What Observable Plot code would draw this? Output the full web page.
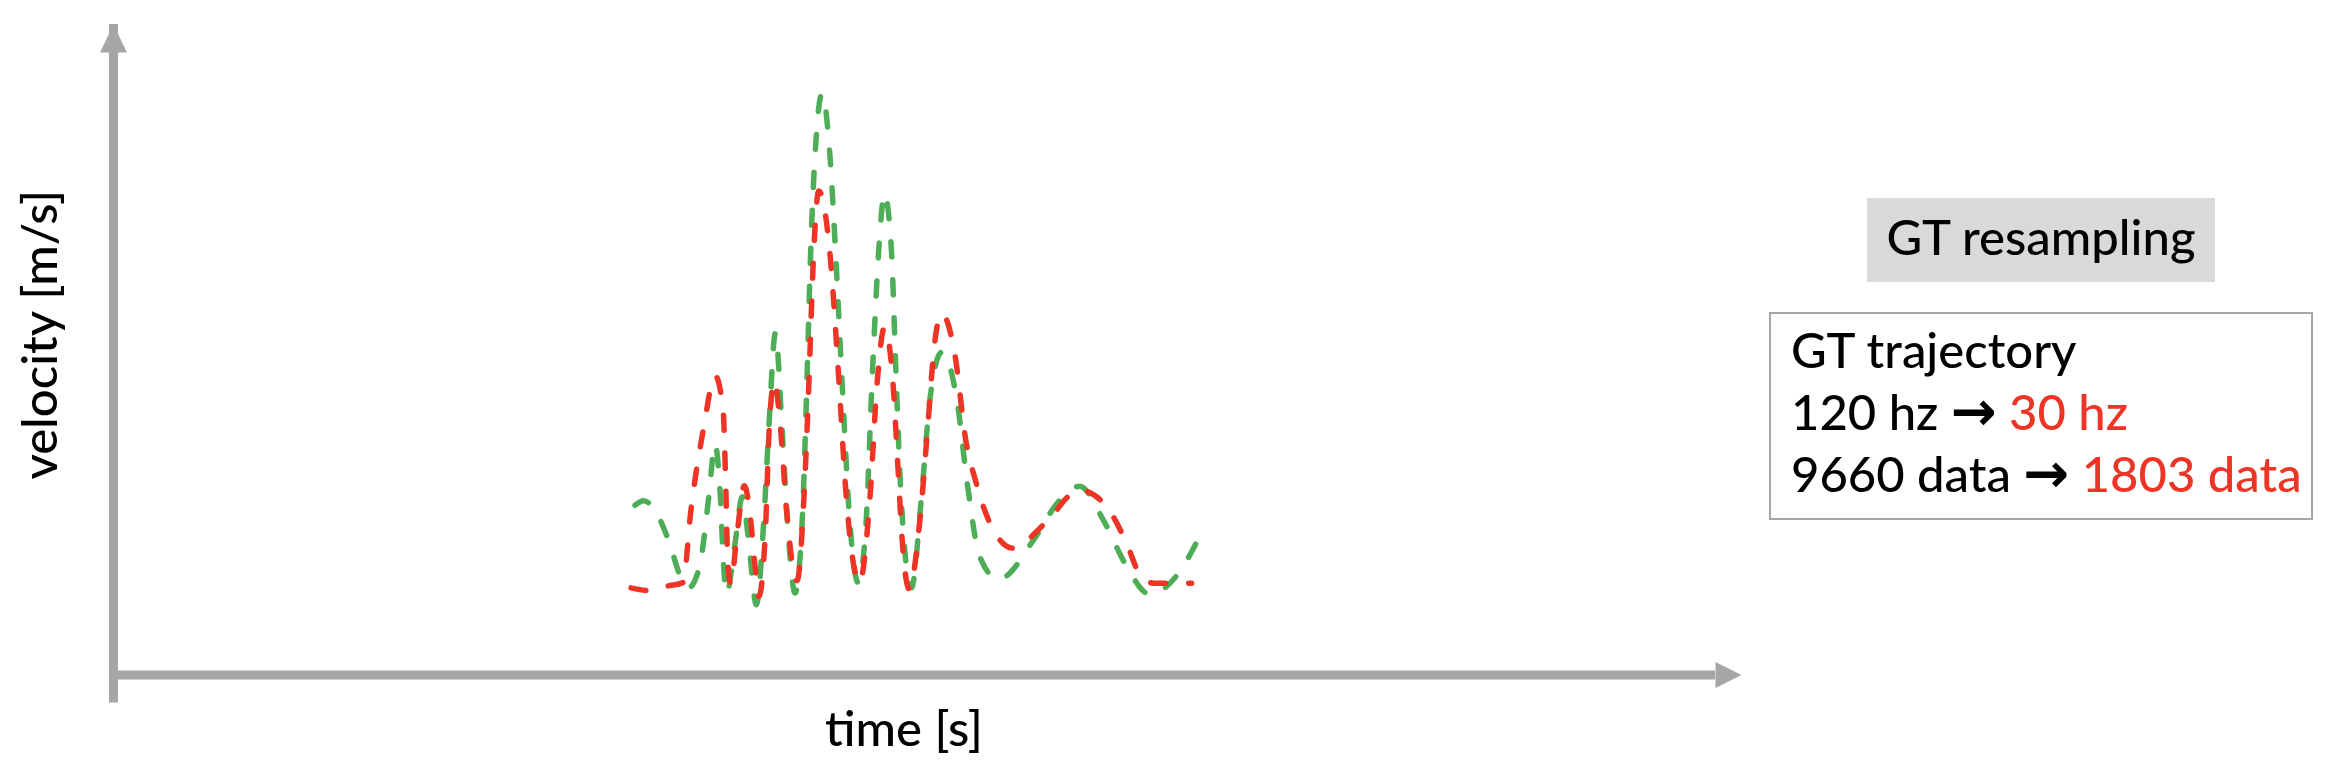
<!DOCTYPE html>
<html>
<head>
<meta charset="utf-8">
<script src="https://cdn.jsdelivr.net/npm/d3@7"></script>
<script src="https://cdn.jsdelivr.net/npm/@observablehq/plot@0.6"></script>
<style>
  html, body { margin: 0; padding: 0; background: #fff; }
  #wrap { position: relative; width: 2336px; height: 774px; font-family: Lato, "Noto Sans", sans-serif; font-weight: 500; color: #000; }
  #wrap svg { position: absolute; left: 0; top: 0; }
  .tag { position: absolute; left: 1867px; top: 198px; width: 348px; height: 84px; box-sizing: border-box;
         background: #D9D9D9; font-size: 49px; line-height: 76px; padding-bottom: 8px; text-align: center; white-space: nowrap; }
  .note { position: absolute; left: 1769px; top: 312px; width: 544px; height: 208px; box-sizing: border-box;
          border: 2px solid #A6A6A6; padding: 4px 0 0 20px; font-size: 49px; line-height: 62px; white-space: nowrap; }
  .red { color: #EE3424; }
  .arr { font-family: "DejaVu Sans", sans-serif; font-weight: bold; font-size: 1.12em; line-height: 0; }
</style>
</head>
<body>
<div id="wrap"></div>
<script>
// ---- data ----
const xLabel = "time [s]";
const yLabel = "velocity [m/s]";
const xDomain = [0, 100];
const yDomain = [0, 10];

// green dashed curve: original GT trajectory (120 hz)
const greenTime = [32.04, 32.55, 33.19, 34.08, 34.85, 35.31, 35.99, 36.58, 36.94, 37.27, 37.47, 37.65, 38.21, 38.62, 38.98,
  39.49, 39.95, 40.28, 40.66, 41.05, 41.43, 41.86, 42.32, 42.58, 42.83, 43.14, 43.52, 43.98, 44.41, 44.80, 45.23, 45.74,
  46.20, 46.63, 47.04, 47.35, 47.78, 48.06, 48.37, 49.01, 49.64, 50.15, 50.87, 51.81, 52.45, 53.21, 54.36, 56.53, 58.06,
  59.34, 60.87, 62.14, 63.67, 65.46, 66.61];
const greenVelocity = [2.61, 2.68, 2.56, 2.08, 1.50, 1.34, 1.66, 2.77, 3.55, 2.77, 1.71, 1.25, 2.08, 2.74, 2.14,
  1.08, 2.40, 3.92, 5.26, 3.86, 2.24, 1.26, 2.45, 4.40, 6.55, 8.18, 8.94, 8.08, 6.22, 4.27, 2.35, 1.42,
  2.24, 4.72, 6.66, 7.40, 6.55, 4.66, 2.77, 1.34, 2.77, 4.24, 4.96, 4.22, 2.93, 1.82, 1.47, 2.08, 2.67,
  2.90, 2.35, 1.71, 1.24, 1.58, 2.08];

// red dashed curve: resampled GT trajectory (30 hz)
const redTime = [31.79, 32.81, 34.08, 34.97, 35.48, 36.25, 36.96, 37.45, 37.60, 37.73, 37.91, 38.29, 38.75, 39.13, 39.39,
  39.64, 40.05, 40.26, 40.59, 40.97, 41.35, 41.99, 42.42, 42.73, 42.96, 43.32, 43.98, 44.54, 45.00, 45.82, 46.45, 46.91,
  47.35, 47.86, 48.16, 48.49, 48.88, 49.52, 50.03, 50.41, 50.87, 51.68, 52.37, 52.96, 53.72, 55.26, 57.17, 59.34, 61.00,
  62.27, 63.03, 63.93, 66.22];
const redVelocity = [1.34, 1.30, 1.37, 1.42, 2.56, 3.80, 4.60, 4.06, 2.98, 1.77, 1.40, 2.14, 2.91, 2.40, 1.71,
  1.21, 2.24, 3.70, 4.52, 3.80, 2.51, 1.45, 2.77, 4.60, 6.22, 7.44, 6.55, 4.60, 2.77, 1.42, 2.67, 4.50,
  5.34, 4.56, 3.30, 1.92, 1.32, 2.35, 3.86, 5.04, 5.56, 4.93, 3.58, 2.98, 2.40, 1.95, 2.32, 2.84, 2.59,
  2.00, 1.55, 1.41, 1.41];

// annotation texts
const tagText = "GT resampling";
const noteTitle = "GT trajectory";
const rateLine = ["120 hz", "30 hz"];
const countLine = ["9660 data", "1803 data"];

// ---- styles ----
const axisColor = "#A6A6A6";
const greenColor = "#4EAD57";
const redColor = "#EE3424";

const greenRows = greenTime.map((t, i) => ({t, v: greenVelocity[i]}));
const redRows = redTime.map((t, i) => ({t, v: redVelocity[i]}));

const rightHead = {draw(ctx) { ctx.moveTo(0, 0); ctx.lineTo(-26, -13); ctx.lineTo(-26, 13); ctx.closePath(); }};
const upHead = {draw(ctx) { ctx.moveTo(0, 0); ctx.lineTo(-13.5, 28); ctx.lineTo(13.5, 28); ctx.closePath(); }};

const dashStyle = {strokeWidth: 5.5, strokeDasharray: "15,23", strokeLinecap: "round", strokeLinejoin: "round", curve: "monotone-x"};

const chart = Plot.plot({
  width: 2336,
  height: 774,
  marginLeft: 113,
  marginRight: 595,
  marginTop: 24,
  marginBottom: 99.5,
  x: {domain: xDomain, axis: null},
  y: {domain: yDomain, axis: null},
  style: {fontFamily: "Lato, 'Noto Sans', sans-serif", fontWeight: 500, background: "transparent", color: "#000"},
  marks: [
    Plot.ruleY([yDomain[0]], {x1: xDomain[0], x2: xDomain[1], stroke: axisColor, strokeWidth: 9, insetRight: 26}),
    Plot.ruleX([xDomain[0]], {y1: yDomain[0], y2: yDomain[1], stroke: axisColor, strokeWidth: 9, insetTop: 28}),
    Plot.dot([{t: xDomain[1], v: yDomain[0]}], {x: "t", y: "v", symbol: rightHead, fill: axisColor}),
    Plot.dot([{t: xDomain[0], v: yDomain[1]}], {x: "t", y: "v", symbol: upHead, fill: axisColor}),
    Plot.line(greenRows, {x: "t", y: "v", stroke: greenColor, ...dashStyle}),
    Plot.line(redRows, {x: "t", y: "v", stroke: redColor, ...dashStyle}),
    Plot.text([yLabel], {text: d => d, frameAnchor: "left", rotate: -90, dx: -72, dy: -15, fontSize: 49,
      fill: "#000", textAnchor: "middle", lineAnchor: "middle"}),
    Plot.text([xLabel], {text: d => d, frameAnchor: "bottom", dx: -23.5, dy: 70.5, fontSize: 49,
      fill: "#000", textAnchor: "middle", lineAnchor: "bottom"})
  ]
});

const wrap = document.getElementById("wrap");
wrap.appendChild(chart);

const tag = document.createElement("div");
tag.className = "tag";
tag.textContent = tagText;
wrap.appendChild(tag);

const note = document.createElement("div");
note.className = "note";
function line(parts) {
  const d = document.createElement("div");
  if (typeof parts === "string") { d.textContent = parts; return d; }
  d.append(parts[0] + " ");
  const a = document.createElement("span"); a.className = "arr"; a.textContent = "\u2192"; d.append(a);
  d.append(" ");
  const r = document.createElement("span"); r.className = "red"; r.textContent = parts[1]; d.append(r);
  return d;
}
note.append(line(noteTitle), line(rateLine), line(countLine));
wrap.appendChild(note);
</script>
</body>
</html>
